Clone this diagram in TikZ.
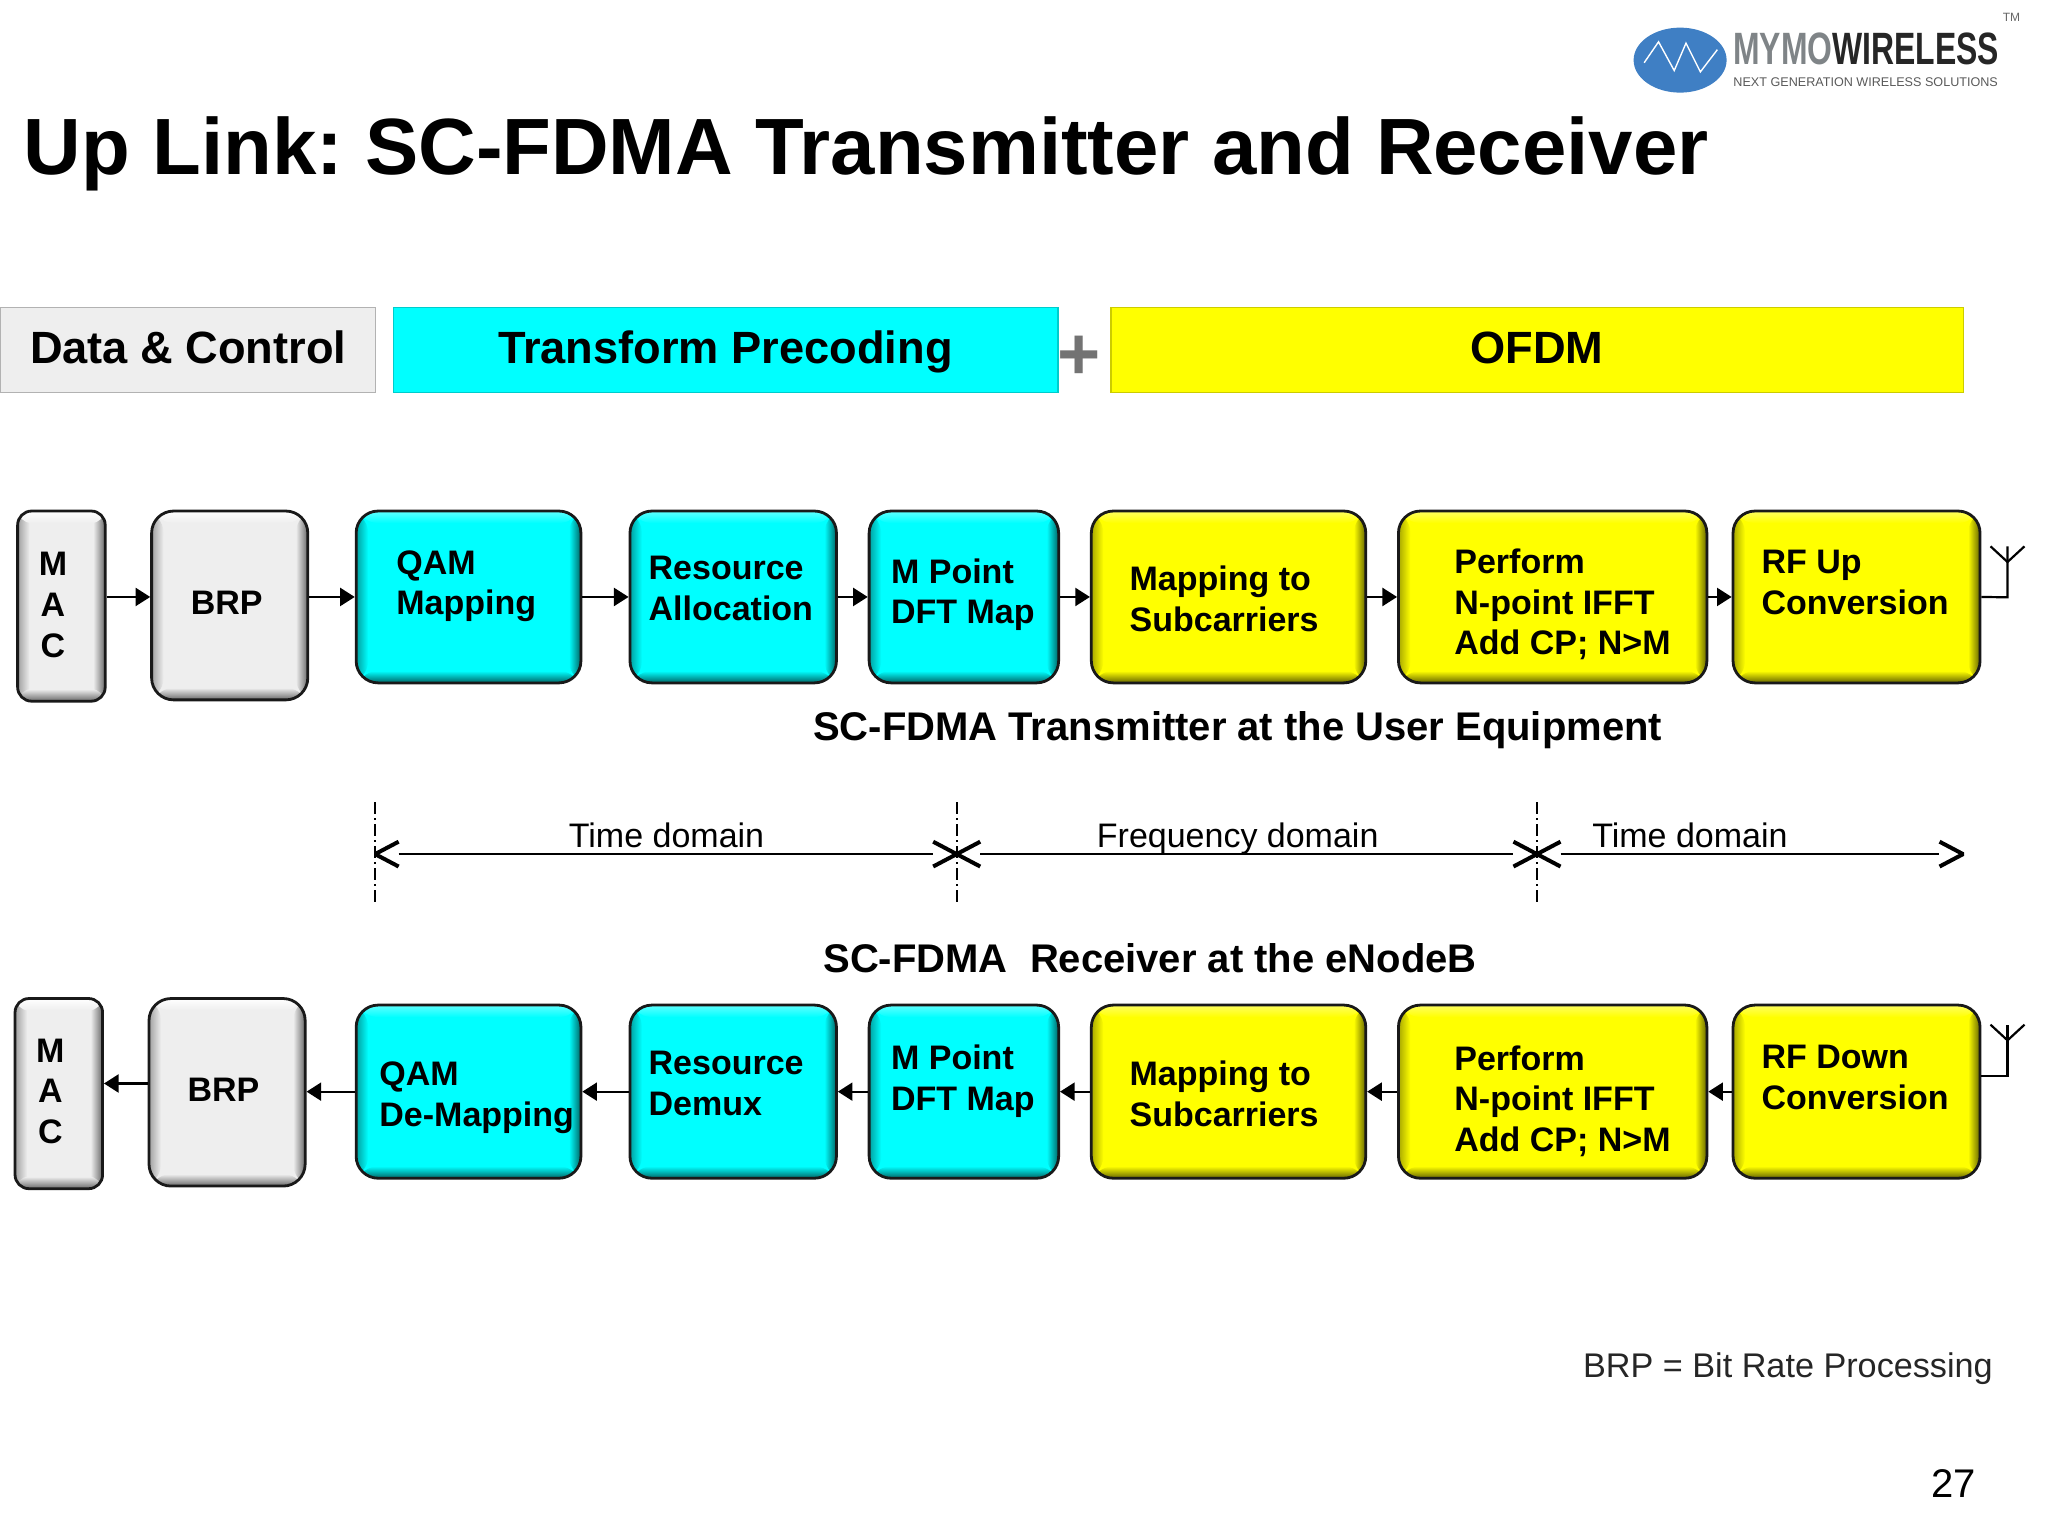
\documentclass[tikz,border=0pt]{standalone}
\usepackage{fontspec}
\setmainfont{Liberation Sans}
\usetikzlibrary{fit,arrows.meta,shapes.geometric}
\definecolor{cy}{HTML}{00FFFF}\definecolor{cyd}{HTML}{006464}\definecolor{cyl}{HTML}{60FFFF}\definecolor{cym}{HTML}{00A0A0}
\definecolor{ye}{HTML}{FFFF00}\definecolor{yed}{HTML}{646400}\definecolor{yel}{HTML}{FFFF60}\definecolor{yem}{HTML}{A8A800}
\definecolor{gy}{HTML}{EEEEEE}\definecolor{gyd}{HTML}{686868}\definecolor{gyl}{HTML}{FFFFFF}\definecolor{gym}{HTML}{A0A0A0}
\definecolor{logob}{HTML}{3F7FC4}\definecolor{logog}{HTML}{7F8487}
\newcommand\bevpic[4]{%
  \def\bw{6pt}%
  \coordinate (bsw) at (path picture bounding box.south west);
  \coordinate (bne) at (path picture bounding box.north east);
  \coordinate (bnw) at (path picture bounding box.north west);
  \coordinate (bse) at (path picture bounding box.south east);
  \shade[left color=#4,right color=#1] (bsw) rectangle ([xshift=\bw]bnw);
  \shade[left color=#1,middle color=#2!70!#1,right color=#2] ([xshift=-\bw]bse) rectangle (bne);
  \shade[top color=#3,bottom color=#1] (bnw) rectangle ([yshift=-\bw]bne);
  \shade[top color=#1,middle color=#2!70!#1,bottom color=#2] ([yshift=\bw]bsw) rectangle (bse);
  \fill[#1,rounded corners=7pt] ([shift={(\bw,\bw)}]bsw) rectangle ([shift={(-\bw,-\bw)}]bne);
}
\tikzset{
  box/.style={draw=black!90,line width=1.4pt,rounded corners=11pt,inner sep=0pt},
  cybox/.style={box,fill=cy,path picture={\bevpic{cy}{cyd}{cyl}{cym}}},
  yebox/.style={box,fill=ye,path picture={\bevpic{ye}{yed}{yel}{yem}}},
  gybox/.style={box,fill=gy,path picture={\bevpic{gy}{gyd}{gyl}{gym}}},
  macbox/.style={gybox,rounded corners=7pt},
  lab/.style={anchor=west,align=left,inner sep=0pt,font=\fontsize{17}{20.4}\selectfont\bfseries},
  mactxt/.style={anchor=center,align=center,inner sep=0pt,font=\fontsize{17}{20.4}\selectfont\bfseries},
  flow/.style={line width=1.1pt,-{Triangle[length=7.3pt,width=9pt]}},
  wire/.style={line width=1.1pt},
  dom/.style={line width=1.1pt,shorten <=11.8pt,shorten >=11.8pt},
  barb/.style={line width=2pt,line join=bevel},
  ticks/.style={line width=0.9pt,dash pattern=on 6pt off 2pt on 1pt off 2pt},
  headtxt/.style={inner sep=0pt,line width=0.6pt,font=\fontsize{22.6}{26}\selectfont\bfseries},
  captxt/.style={inner sep=0pt,font=\fontsize{20}{24}\selectfont\bfseries},
  domtxt/.style={inner sep=0pt,font=\fontsize{17}{20}\selectfont},
}
\newcommand\bx[6]{\node[#6,fit={(#2,#3)(#4,#5)}] (#1) {};}
\begin{document}
\frenchspacing
\begin{tikzpicture}[x=0.6535pt,y=-0.6535pt]
\useasboundingbox (0,0) rectangle (1567,1175);
% title
\node[anchor=west,inner sep=0pt,font=\fontsize{39.9}{46}\selectfont\bfseries] (title) at (18,118) {Up Link: SC-FDMA Transmitter and Receiver};
% logo
\node[ellipse,fill=logob,minimum width=46.5pt,minimum height=32.5pt,inner sep=0pt] (logo) at (1285.5,46) {};
\draw[white,line width=0.7pt] (1258,48)--(1269,32)--(1281,54)--(1290,33)--(1301,55)--(1314,38);
\node[anchor=west,inner sep=0pt,xscale=0.725,yscale=1.03,font=\fontsize{22}{24}\selectfont\bfseries] (brand) at (1326,37.5) {\textcolor{logog}{MYMO}\textcolor{black!85}{WIRELESS}};
\node[anchor=west,inner sep=0pt,font=\fontsize{6.3}{8}\selectfont,text=black!65] (tag) at (1326,63) {NEXT GENERATION WIRELESS SOLUTIONS};
\node[inner sep=0pt,font=\fontsize{6}{7}\selectfont,text=black!60] (tm) at (1539,13) {TM};
% header bars
\node[headtxt,draw=black!30,fill=gy,fit={(0.5,235)(287,300.5)}] (hd) {};
\node[headtxt] (hdt) at (144,266) {Data \& Control};
\node[headtxt,draw=cy!80!black,fill=cy,fit={(301,235)(809.5,300.5)}] (ht) {};
\node[headtxt] (htt) at (555,269) {Transform Precoding};
\node[inner sep=0pt,font=\fontsize{37}{40}\selectfont\bfseries,text=black!55] (plus) at (826,274) {+};
\node[headtxt,draw=ye!80!black,fill=ye,fit={(850,235)(1502.5,300.5)}] (ho) {};
\node[headtxt] (hot) at (1176,266) {OFDM};
% top chain
\bx{tmac}{13.5}{391}{80.5}{536.5}{macbox}
\bx{tbrp}{116}{391}{235.5}{535.5}{gybox}
\bx{tqam}{272.5}{391}{444.5}{522.5}{cybox}
\bx{tres}{482}{391}{640}{522.5}{cybox}
\bx{tdft}{665}{391}{810}{522.5}{cybox}
\bx{tmap}{835}{391}{1045}{522.5}{yebox}
\bx{tfft}{1070}{391}{1306}{522.5}{yebox}
\bx{trf}{1326}{391}{1515}{522.5}{yebox}
\node[mactxt] (ttmac) at (40.5,463) {M\\A\\C};
\node[mactxt] (ttbrp) at (173.5,461) {BRP};
\node[lab] (ttqam) at (303,448.5) {QAM\\Mapping};
\node[lab] (ttres) at (496,450.5) {Resource\\Allocation};
\node[lab] (ttdft) at (681.5,455) {M Point\\DFT Map};
\node[lab] (ttmap) at (864,458) {Mapping to\\Subcarriers};
\node[lab] (ttfft) at (1112.5,462.5) {Perform\\N-point IFFT\\Add CP; N>M};
\node[lab] (ttrf) at (1347.5,445.5) {RF Up\\Conversion};
\draw[flow] (tmac.east |- tqam.west) -- (tbrp.west |- tqam.west);
\draw[flow] (tbrp.east |- tqam.west) -- (tqam.west);
\draw[flow] (tqam.east) -- (tres.west);
\draw[flow] (tres.east) -- (tdft.west);
\draw[flow] (tdft.east) -- (tmap.west);
\draw[flow] (tmap.east) -- (tfft.west);
\draw[flow] (tfft.east) -- (trf.west);
\coordinate (tant) at (1536,457);
\coordinate (tantj) at (1536,430);
\coordinate (tanttop) at (1536,418);
\coordinate (tantl) at (1523,418);
\coordinate (tantr) at (1549,418);
\draw[wire] (trf.east) -- (tant) -- (tanttop);
\draw[wire] (tantl) -- (tantj) -- (tantr);
\node[captxt] (ctx) at (947,559) {SC-FDMA Transmitter at the User Equipment};
% domains
\foreach \n/\x in {a/287,b/732,c/1176}{
  \coordinate (\n1) at (\x,614);
  \coordinate (\n2) at (\x,692);
  \coordinate (\n3) at (\x,653.5);
  \draw[ticks] (\n1) -- (\n2);
}
\coordinate (dm) at (1502,653.5);
\draw[dom] (a3) -- (b3);
\draw[dom] (b3) -- (c3);
\draw[dom] (c3) -- (dm);
\foreach \p in {a3,b3,c3}{
  \draw[barb] ([shift={(18,-9.5)}]\p) -- (\p) -- ([shift={(18,9.5)}]\p);
}
\foreach \p in {b3,c3,dm}{
  \draw[barb] ([shift={(-18,-9.5)}]\p) -- (\p) -- ([shift={(-18,9.5)}]\p);
}
\node[domtxt] (d1) at (510,639) {Time domain};
\node[domtxt] (d2) at (947,641.5) {Frequency domain};
\node[domtxt] (d3) at (1293,639) {Time domain};
\node[captxt] (crx) at (880,733) {SC-FDMA\ \ Receiver at the eNodeB};
% bottom chain
\bx{bmac}{11.5}{764}{78.5}{909.5}{macbox}
\bx{bbrp}{114}{764}{233.5}{907.5}{gybox}
\bx{bqam}{272.5}{769}{444.5}{901.5}{cybox}
\bx{bres}{482}{769}{640}{901.5}{cybox}
\bx{bdft}{665}{769}{810}{901.5}{cybox}
\bx{bmap}{835}{769}{1045}{901.5}{yebox}
\bx{bfft}{1070}{769}{1306}{901.5}{yebox}
\bx{brf}{1326}{769}{1515}{901.5}{yebox}
\node[mactxt] (tbmac) at (38.5,835) {M\\A\\C};
\node[mactxt] (tbbrp) at (171,834) {BRP};
\node[lab] (tbqam) at (290,840) {QAM\\De-Mapping};
\node[lab] (tbres) at (496,829) {Resource\\Demux};
\node[lab] (tbdft) at (681.5,827) {M Point\\DFT Map};
\node[lab] (tbmap) at (864,837) {Mapping to\\Subcarriers};
\node[lab] (tbfft) at (1112.5,842.5) {Perform\\N-point IFFT\\Add CP; N>M};
\node[lab] (tbrf) at (1347.5,824.5) {RF Down\\Conversion};
\draw[flow] (brf.west) -- (bfft.east);
\draw[flow] (bfft.west) -- (bmap.east);
\draw[flow] (bmap.west) -- (bdft.east);
\draw[flow] (bdft.west) -- (bres.east);
\draw[flow] (bres.west) -- (bqam.east);
\draw[flow] (bqam.west) -- (bbrp.east |- bqam.west);
\coordinate (bmid) at (0,829);
\draw[flow] (bbrp.west |- bmid) -- (bmac.east |- bmid);
\coordinate (bant) at (1536,823);
\coordinate (bantj) at (1536,796);
\coordinate (banttop) at (1536,784);
\coordinate (bantl) at (1523,784);
\coordinate (bantr) at (1549,784);
\draw[wire] (brf.east |- bant) -- (bant) -- (banttop);
\draw[wire] (bantl) -- (bantj) -- (bantr);
% footer
\node[anchor=east,inner sep=0pt,font=\fontsize{17.1}{20}\selectfont,text=black!85] (brpnote) at (1525,1047) {BRP = Bit Rate Processing};
\node[inner sep=0pt,font=\fontsize{20}{24}\selectfont] (page) at (1495,1135) {27};
\end{tikzpicture}
\end{document}
